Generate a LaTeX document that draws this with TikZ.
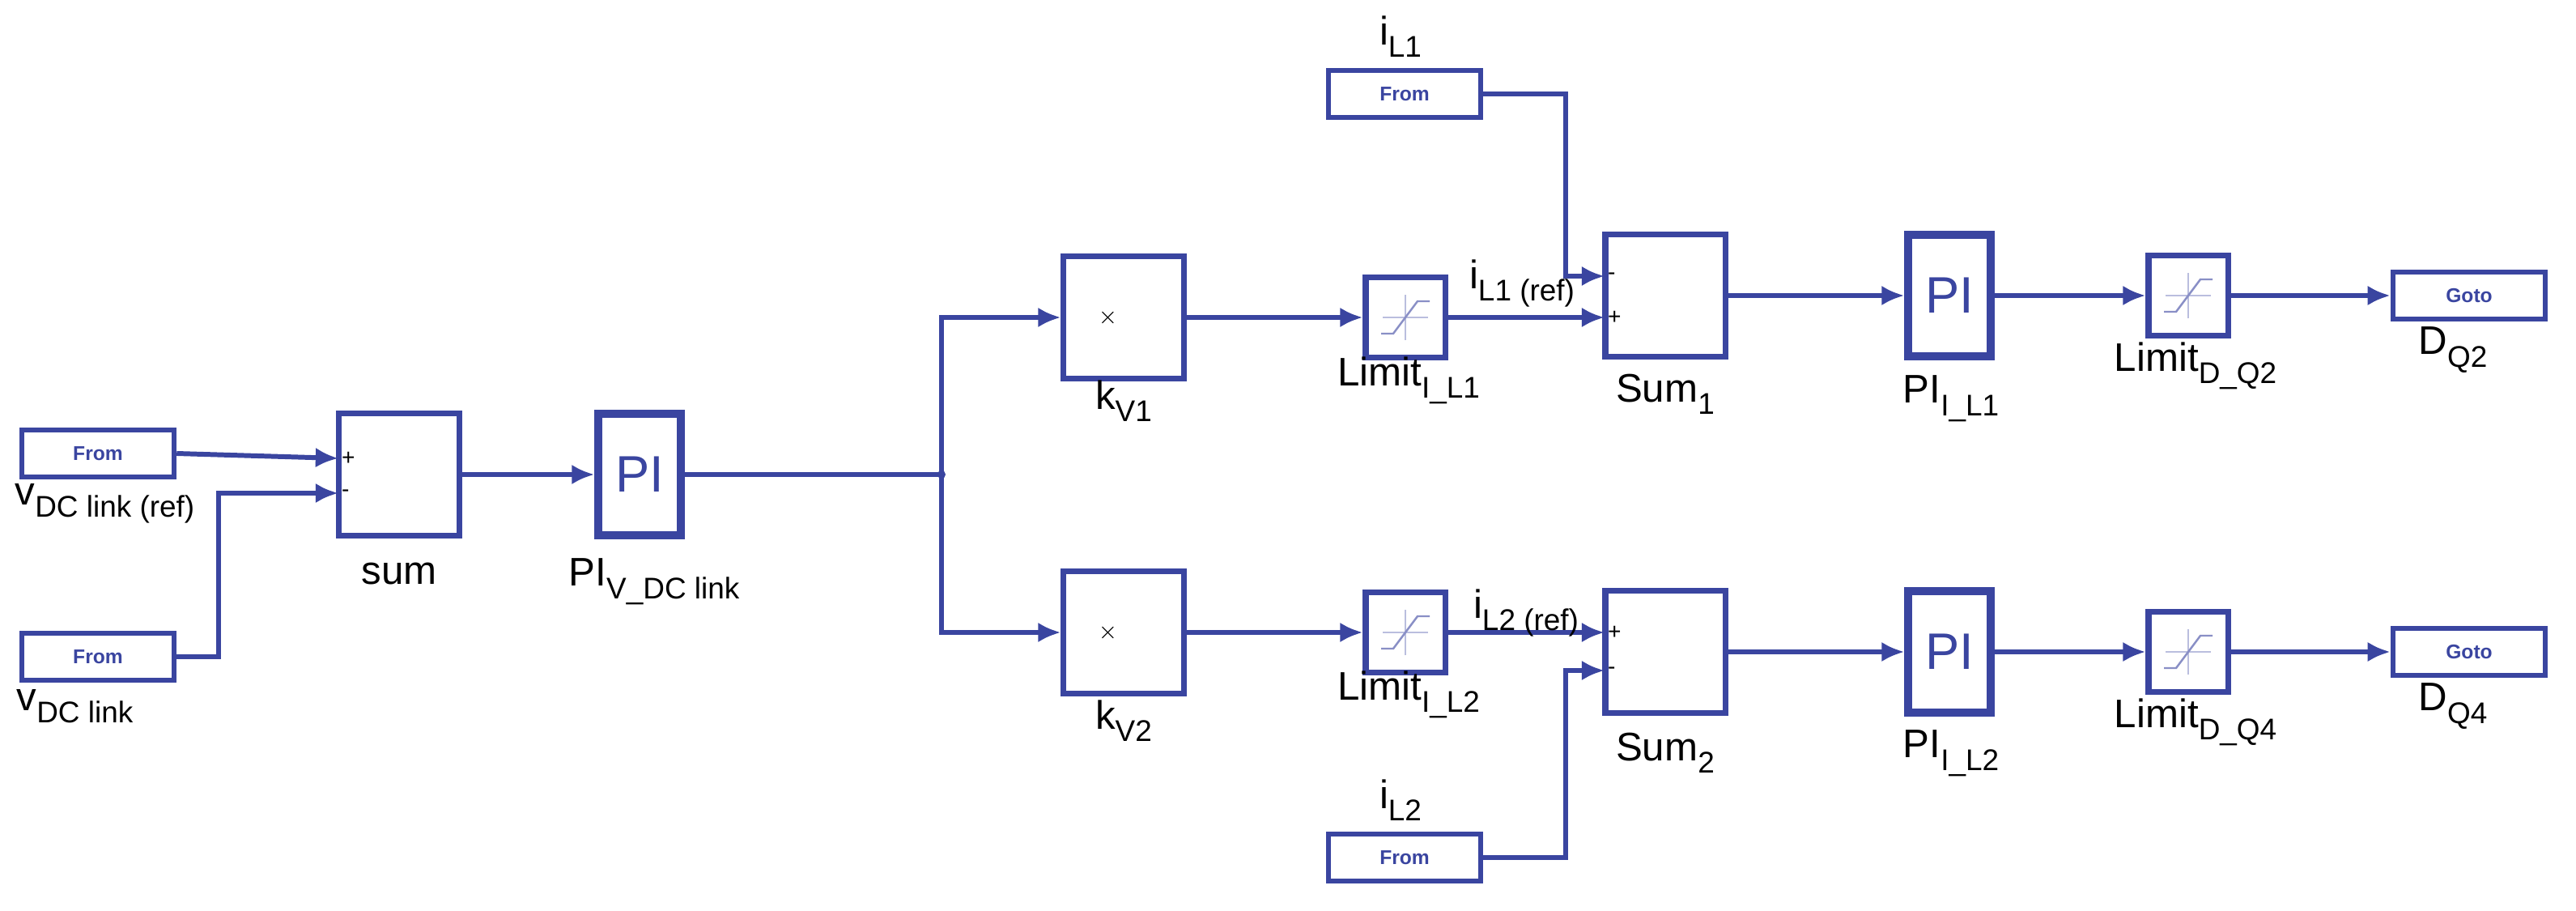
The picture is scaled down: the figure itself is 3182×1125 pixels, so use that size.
\documentclass[tikz,border=0pt]{standalone}
\usepackage{fontspec}
\setmainfont{Liberation Sans}
\usetikzlibrary{arrows.meta}
\definecolor{dcblue}{RGB}{58,69,160}
\newcommand{\lowtxt}[1]{\raisebox{-0.6ex}{\fontsize{10.5}{12}\selectfont #1}}
\tikzset{
  wire/.style={dcblue, line width=1.7pt},
  arr/.style={wire, -{Latex[length=8pt,width=7pt]}},
  blk/.style={draw=dcblue, line width=2pt, fill=white, inner sep=0pt, minimum width=1.48cm, minimum height=1.5cm},
  piblk/.style={blk, line width=2.6pt, minimum width=1.02cm, font=\fontsize{18}{20}\selectfont, text=dcblue},
  tag/.style={draw=dcblue, line width=1.8pt, inner sep=0pt, minimum width=1.88cm, minimum height=0.58cm, font=\fontsize{7}{8}\selectfont\bfseries, text=dcblue},
  limblk/.style={blk, minimum width=0.98cm, minimum height=0.98cm,
    path picture={
      \draw[dcblue!35, line width=0.5pt] ([shift={(-0.28cm,0cm)}]path picture bounding box.center) -- ++(0.56cm,0cm);
      \draw[dcblue!35, line width=0.5pt] ([shift={(0cm,-0.28cm)}]path picture bounding box.center) -- ++(0cm,0.56cm);
      \draw[dcblue!60, line width=0.7pt] ([shift={(-0.3cm,-0.2cm)}]path picture bounding box.center) -- ++(0.15cm,0cm) -- ++(0.3cm,0.4cm) -- ++(0.15cm,0cm);}},
  lbl/.style={font=\fontsize{14}{16}\selectfont, inner sep=0pt},
  sgn/.style={font=\fontsize{8}{9}\selectfont, inner sep=1pt, anchor=west}
}
\begin{document}
\begin{tikzpicture}[x=0.01cm, y=-0.01cm]
\useasboundingbox (0,0) rectangle (3182,1125);

% sources
\node[tag] (vref) at (121,560) {From};
\node[tag] (vdc) at (121,811) {From};
\node[tag] (fromL1) at (1735,116) {From};
\node[tag] (fromL2) at (1735,1059) {From};

% voltage loop
\node[blk] (sum) at (493,586) {};
\node[piblk] (piv) at (790,586) {PI};
\coordinate (split) at (1163,586);

% current references
\node[blk] (kv1) at (1388,392) {};
\node[blk] (kv2) at (1388,781) {};
\node[limblk] (lim1) at (1736,392) {};
\node[limblk] (lim2) at (1736,781) {};

% current loops
\node[blk] (sum1) at (2057,365) {};
\node[blk] (sum2) at (2057,805) {};
\node[piblk] (pii1) at (2408,365) {PI};
\node[piblk] (pii2) at (2408,805) {PI};
\node[limblk] (limq2) at (2703,365) {};
\node[limblk] (limq4) at (2703,805) {};
\node[tag] (goto1) at (3050,365) {Goto};
\node[tag] (goto2) at (3050,805) {Goto};

% input points
\coordinate (sumin1) at (418,566);
\coordinate (sumin2) at (418,609);
\coordinate (s1in1) at (1982,341);
\coordinate (s1in2) at (1982,392);
\coordinate (s2in1) at (1982,781);
\coordinate (s2in2) at (1982,828);

% signs
\node[sgn] at (sumin1) {+};
\node[sgn] at (sumin2) {-};
\node[sgn] at (s1in1) {-};
\node[sgn] at (s1in2) {+};
\node[sgn] at (s2in1) {+};
\node[sgn] at (s2in2) {-};
\node[sgn] at ([xshift=12]kv1.west) {$\times$};
\node[sgn] at ([xshift=12]kv2.west) {$\times$};

% wires
\draw[arr] (vref.east) -- (sumin1);
\draw[arr] (vdc.east) -- (270,811) |- (sumin2);
\draw[arr] (sum.east) -- (piv.west);
\draw[wire] (piv.east) -- (split);
\fill[dcblue] (split) circle (5);
\draw[arr] (split) |- (kv1.west);
\draw[arr] (split) |- (kv2.west);
\draw[arr] (kv1.east) -- (lim1.west);
\draw[arr] (kv2.east) -- (lim2.west);
\draw[arr] (lim1.east) -- (s1in2);
\draw[arr] (lim2.east) -- (s2in1);
\draw[arr] (fromL1.east) -- (1934,116) |- (s1in1);
\draw[arr] (fromL2.east) -- (1934,1059) |- (s2in2);
\draw[arr] (sum1.east) -- (pii1.west);
\draw[arr] (sum2.east) -- (pii2.west);
\draw[arr] (pii1.east) -- (limq2.west);
\draw[arr] (pii2.east) -- (limq4.west);
\draw[arr] (limq2.east) -- (goto1.west);
\draw[arr] (limq4.east) -- (goto2.west);

% labels
\node[lbl, anchor=west] at (18,622) {v\lowtxt{DC link (ref)}};
\node[lbl, anchor=west] at (20,872) {v\lowtxt{DC link}};
\node[lbl] at (493,708) {sum};
\node[lbl] at (808,718) {PI\lowtxt{V\_DC link}};
\node[lbl] at (1388,495) {k\lowtxt{V1}};
\node[lbl] at (1388,890) {k\lowtxt{V2}};
\node[lbl] at (1740,470) {Limit\lowtxt{I\_L1}};
\node[lbl] at (1740,858) {Limit\lowtxt{I\_L2}};
\node[lbl] at (1880,350) {i\lowtxt{L1 (ref)}};
\node[lbl] at (1885,757) {i\lowtxt{L2 (ref)}};
\node[lbl] at (1730,45) {i\lowtxt{L1}};
\node[lbl] at (1730,988) {i\lowtxt{L2}};
\node[lbl] at (2057,487) {Sum\lowtxt{1}};
\node[lbl] at (2057,930) {Sum\lowtxt{2}};
\node[lbl] at (2410,492) {PI\lowtxt{I\_L1}};
\node[lbl] at (2410,930) {PI\lowtxt{I\_L2}};
\node[lbl] at (2712,452) {Limit\lowtxt{D\_Q2}};
\node[lbl] at (2712,892) {Limit\lowtxt{D\_Q4}};
\node[lbl] at (3030,432) {D\lowtxt{Q2}};
\node[lbl] at (3030,872) {D\lowtxt{Q4}};
\end{tikzpicture}
\end{document}
